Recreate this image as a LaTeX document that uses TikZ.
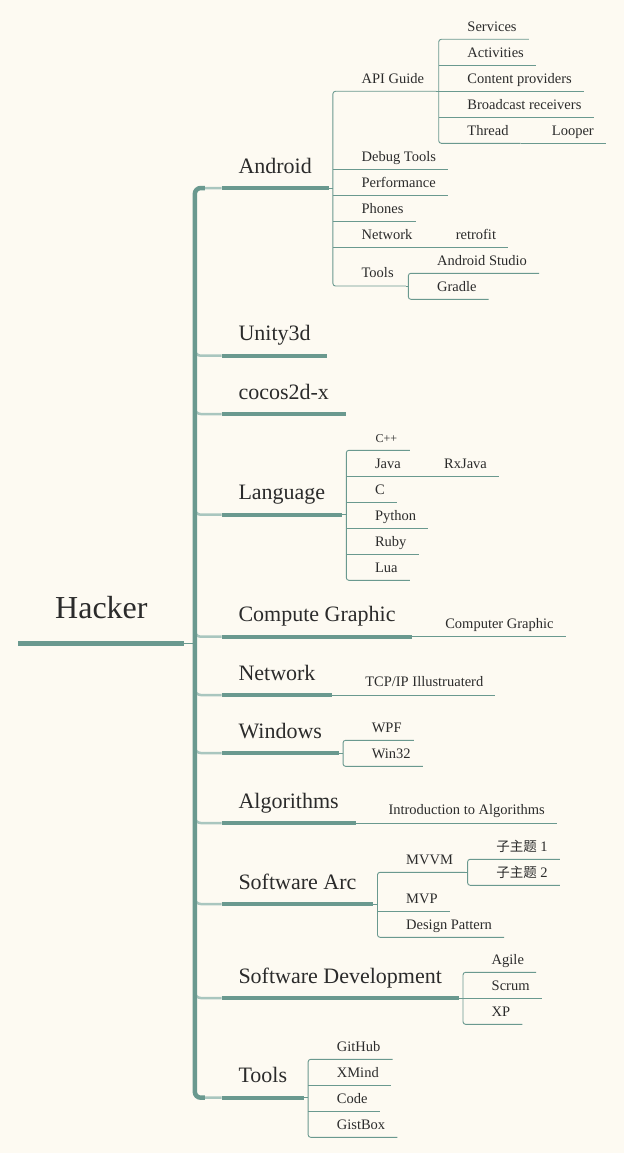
\documentclass[tikz,border=0pt]{standalone}
\usepackage{fontspec}
\setmainfont{Liberation Serif}
\newfontfamily\cjk{Noto Sans CJK SC}
\usetikzlibrary{calc}

\definecolor{paper}{HTML}{FDFAF2}
\definecolor{branch}{HTML}{6A998F}
\definecolor{stemc}{HTML}{A9C6BF}
\definecolor{ink}{HTML}{2B2B2B}

\tikzset{
  root/.style={anchor=south west, font=\fontsize{32}{32}\selectfont, text=ink, inner xsep=36.7pt, inner ysep=0pt, text depth=25pt},
  topic/.style={anchor=south west, font=\fontsize{22}{22}\selectfont, text=ink, inner xsep=16.6pt, inner ysep=0pt, text depth=14.7pt},
  leaf/.style={anchor=south west, xshift=16.5pt, font=\fontsize{14.5}{14.5}\selectfont, text=ink, inner xsep=12pt, inner ysep=0pt, text depth=8pt},
  spine/.style={draw=branch, line width=4.5pt, rounded corners=6pt},
  stem/.style={draw=stemc, line width=2.5pt, rounded corners=6pt},
  bar/.style={draw=branch, line width=4pt},
  twig/.style={draw=branch, line width=0.9pt, rounded corners=2.5pt},
}

\begin{document}
\begin{tikzpicture}[x=1pt,y=-1pt]
\fill[paper] (0,0) rectangle (624,1153);

% central topic
\node[root] (hacker) at (18.3,643.3) {Hacker};
\draw[bar, line width=4.5pt] (hacker.south west) -- (hacker.south east);

% main topics
\foreach \n/\y/\t in {android/188/Android, unity/355.7/Unity3d, cocos/414/cocos2d-x,
    language/514.7/Language, compute/636.7/Compute Graphic, network/695/Network,
    windows/753/Windows, algorithms/823/Algorithms, softarc/904/Software Arc,
    softdev/998/Software Development, tools/1097.7/Tools}
  \node[topic] (\n) at (221.7,\y) {\t};

% spine and stems
\coordinate (spinetop) at (194.8,188);
\coordinate (spinebot) at (194.8,1097.7);
\draw[stem] ($(spinetop)+(0,12)$) |- (android.south west);
\foreach \n in {unity,cocos,language,compute,network,windows,algorithms,softarc,softdev,tools}
  \draw[stem] ($(spinetop |- \n.south)+(0,-12)$) |- (\n.south west);
\draw[spine] ([xshift=10pt]spinetop) -- (spinetop) -- (spinebot) -- ([xshift=10pt]spinebot);
\draw[twig] (hacker.south east) -- (spinetop |- hacker.south);
\foreach \n in {android,unity,cocos,language,compute,network,windows,algorithms,softarc,softdev,tools}
  \draw[bar] (\n.south west) -- (\n.south east);

% Android
\draw[twig] (android.south east) -- ++(4.3,0) coordinate (av);
\foreach \n/\y/\t in {apiguide/91.3/API Guide, debug/169.3/Debug Tools, performance/195.3/Performance,
    phones/221.3/Phones, netw/247.3/Network, atools/286/Tools}
  \node[leaf] (\n) at (av |- 0,\y) {\t};
\draw[twig] (apiguide.south east) -| (av) |- (atools.south east);
\foreach \n in {debug,performance,phones,netw}
  \draw[twig] (av |- \n.south) -- (\n.south east);

\draw[twig] (apiguide.south east) -- ++(2.5,0) coordinate (apiv);
\foreach \n/\y/\t in {services/39.3/Services, activities/65.3/Activities, content/91.3/Content providers,
    broadcast/117.3/Broadcast receivers, thread/143.3/Thread}
  \node[leaf] (\n) at (apiv |- 0,\y) {\t};
\draw[twig] (services.south east) -| (apiv) |- (thread.south east);
\foreach \n in {activities,content,broadcast}
  \draw[twig] (apiv |- \n.south) -- (\n.south east);

\draw[twig] (thread.south east) -- ++(2.5,0) coordinate (thv);
\node[leaf] (looper) at (thv) {Looper};
\draw[twig] (thv) -- (looper.south east);

\draw[twig] (netw.south east) -- ++(2.5,0) coordinate (nwv);
\node[leaf] (retrofit) at (nwv) {retrofit};
\draw[twig] (nwv) -- (retrofit.south east);

\draw[twig] (atools.south east) -- ++(2.5,0) coordinate (atv);
\node[leaf] (studio) at (atv |- 0,273.3) {Android Studio};
\node[leaf] (gradle) at (atv |- 0,299.3) {Gradle};
\draw[twig] (studio.south east) -| (atv) |- (gradle.south east);

% Language
\draw[twig] (language.south east) -- ++(4.3,0) coordinate (lv);
\node[leaf, font=\fontsize{12}{12}\selectfont, inner xsep=12.5pt] (cpp) at (lv |- 0,450.3) {C++};
\foreach \n/\y/\t in {java/476.3/Java, c/502.3/C, python/528.3/Python, ruby/554.3/Ruby, lua/580.3/Lua}
  \node[leaf] (\n) at (lv |- 0,\y) {\t};
\draw[twig] (cpp.south east) -| (lv) |- (lua.south east);
\foreach \n in {java,c,python,ruby}
  \draw[twig] (lv |- \n.south) -- (\n.south east);
\draw[twig] (java.south east) -- ++(2.5,0) coordinate (jv);
\node[leaf] (rxjava) at (jv) {RxJava};
\draw[twig] (jv) -- (rxjava.south east);

% Compute Graphic
\draw[twig] (compute.south east) -- ++(4.3,0) coordinate (cv);
\node[leaf] (compgraphic) at (cv) {Computer Graphic};
\draw[twig] (cv) -- (compgraphic.south east);

% Network
\draw[twig] (network.south east) -- ++(4.3,0) coordinate (nv);
\node[leaf] (tcpip) at (nv) {TCP/IP Illustruaterd};
\draw[twig] (nv) -- (tcpip.south east);

% Windows
\draw[twig] (windows.south east) -- ++(4.3,0) coordinate (wv);
\node[leaf] (wpf) at (wv |- 0,740.3) {WPF};
\node[leaf] (win32) at (wv |- 0,766.3) {Win32};
\draw[twig] (wpf.south east) -| (wv) |- (win32.south east);

% Algorithms
\draw[twig] (algorithms.south east) -- ++(4.3,0) coordinate (alv);
\node[leaf] (intro) at (alv) {Introduction to Algorithms};
\draw[twig] (alv) -- (intro.south east);

% Software Arc
\draw[twig] (softarc.south east) -- ++(4.3,0) coordinate (sav);
\node[leaf] (mvvm) at (sav |- 0,872.3) {MVVM};
\node[leaf] (mvp) at (sav |- 0,911.3) {MVP};
\node[leaf] (pattern) at (sav |- 0,937.3) {Design Pattern};
\draw[twig] (mvvm.south east) -| (sav) |- (pattern.south east);
\draw[twig] (sav |- mvp.south) -- (mvp.south east);
\draw[twig] (mvvm.south east) -- ++(2.5,0) coordinate (mvv);
\node[leaf] (sub1) at (mvv |- 0,859.3) {{\cjk\fontsize{13.5}{13.5}\selectfont 子主题} 1};
\node[leaf] (sub2) at (mvv |- 0,885.3) {{\cjk\fontsize{13.5}{13.5}\selectfont 子主题} 2};
\draw[twig] (sub1.south east) -| (mvv) |- (sub2.south east);

% Software Development
\draw[twig] (softdev.south east) -- ++(4.3,0) coordinate (sdv);
\node[leaf] (agile) at (sdv |- 0,972.3) {Agile};
\node[leaf] (scrum) at (sdv |- 0,998.3) {Scrum};
\node[leaf] (xp) at (sdv |- 0,1024.3) {XP};
\draw[twig] (agile.south east) -| (sdv) |- (xp.south east);
\draw[twig] (sdv |- scrum.south) -- (scrum.south east);

% Tools
\draw[twig] (tools.south east) -- ++(4.3,0) coordinate (tv);
\foreach \n/\y/\t in {github/1059.3/GitHub, xmind/1085.3/XMind, code/1111.3/Code, gistbox/1137.3/GistBox}
  \node[leaf] (\n) at (tv |- 0,\y) {\t};
\draw[twig] (github.south east) -| (tv) |- (gistbox.south east);
\foreach \n in {xmind,code}
  \draw[twig] (tv |- \n.south) -- (\n.south east);
\end{tikzpicture}
\end{document}
